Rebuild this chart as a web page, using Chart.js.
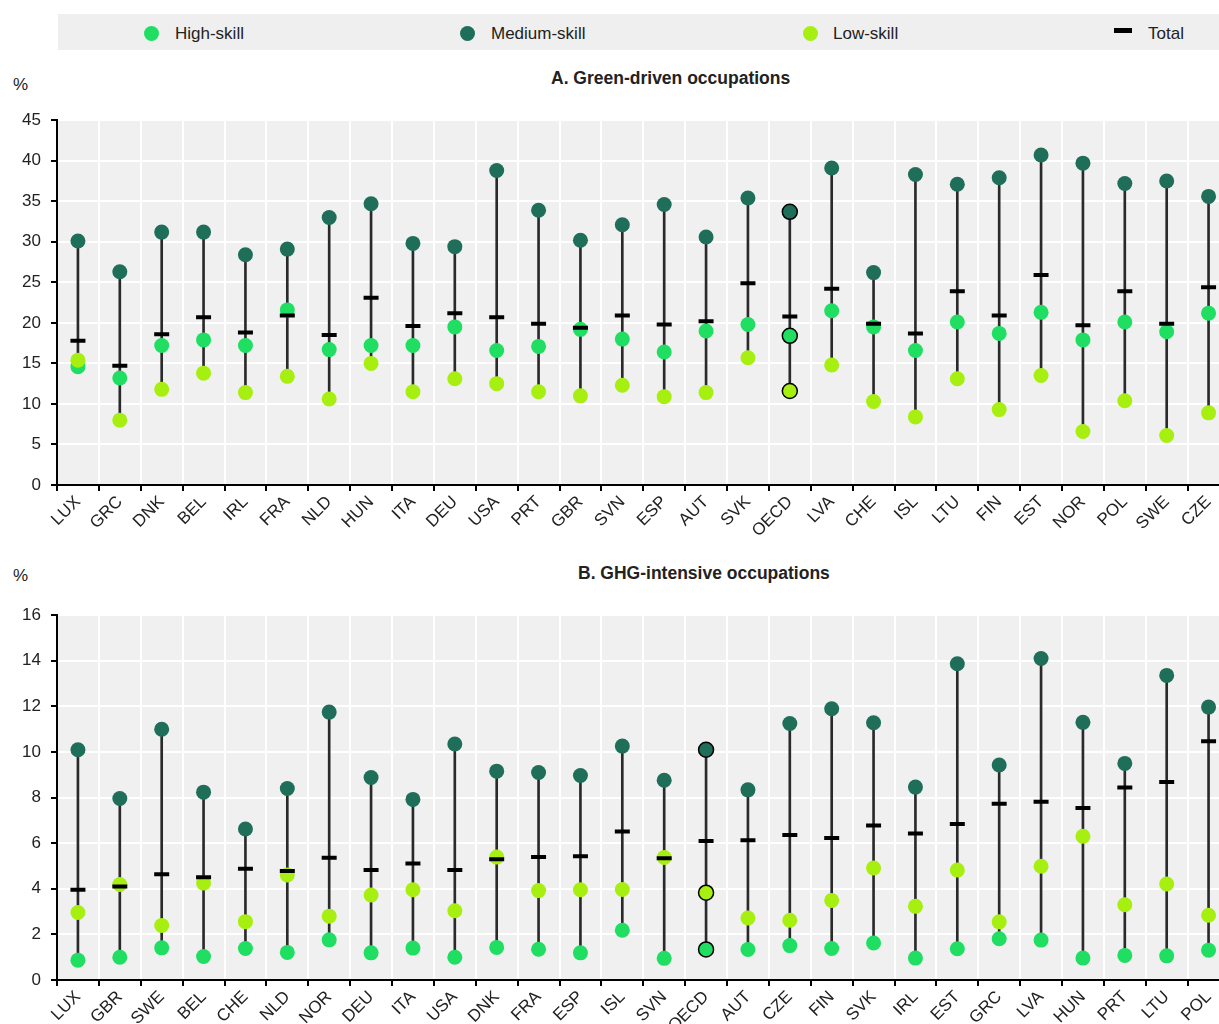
<!DOCTYPE html>
<html>
<head>
<meta charset="utf-8">
<script src="https://cdn.jsdelivr.net/npm/chart.js@4"></script>
<style>
  body { margin: 0; width: 1219px; height: 1024px; overflow: hidden; background: #fff; position: relative;
         font-family: "Liberation Sans Narrow", "Arial Narrow", "Liberation Sans", sans-serif; color: #222; }
  .abs { position: absolute; }
  #legend { left: 58px; top: 14px; width: 1161px; height: 36px; background: #efefef; }
  .dot { position: absolute; width: 15px; height: 15px; border-radius: 50%; top: 12px; }
  .lbl { position: absolute; top: 10px; font-size: 17px; }
  .title { font-weight: bold; font-size: 17.5px; }
  .pct { font-size: 17px; }
</style>
</head>
<body>
<div id="legend" class="abs">
  <span class="dot" style="left:86px;background:#1fde62"></span><span class="lbl" style="left:117px">High-skill</span>
  <span class="dot" style="left:402px;background:#1e6e5a"></span><span class="lbl" style="left:433px">Medium-skill</span>
  <span class="dot" style="left:745px;background:#a6ef10"></span><span class="lbl" style="left:775px">Low-skill</span>
  <span style="position:absolute;left:1056px;top:14px;width:18px;height:5px;background:#000"></span><span class="lbl" style="left:1090px">Total</span>
</div>

<div class="abs pct" style="left:13px;top:75px">%</div>
<div class="abs title" style="left:551px;top:68px">A. Green-driven occupations</div>
<canvas id="chartA" class="abs" style="left:0;top:100px"></canvas>

<div class="abs pct" style="left:13px;top:566px">%</div>
<div class="abs title" style="left:578px;top:563px">B. GHG-intensive occupations</div>
<canvas id="chartB" class="abs" style="left:0;top:595px"></canvas>

<script>
// Panel A: green-driven occupations (%)
const catsA = ['LUX','GRC','DNK','BEL','IRL','FRA','NLD','HUN','ITA','DEU','USA','PRT','GBR','SVN','ESP','AUT','SVK','OECD','LVA','CHE','ISL','LTU','FIN','EST','NOR','POL','SWE','CZE'];
const highA  = [14.6,13.2,17.2,17.9,17.2,21.6,16.7,17.2,17.2,19.5,16.6,17.1,19.2,18.0,16.4,19.0,19.8,18.4,21.5,19.5,16.6,20.1,18.7,21.3,17.9,20.1,18.9,21.2];
const medA   = [30.1,26.3,31.2,31.2,28.4,29.1,33.0,34.7,29.8,29.4,38.8,33.9,30.2,32.1,34.6,30.6,35.4,33.7,39.1,26.2,38.3,37.1,37.9,40.7,39.7,37.2,37.5,35.6];
const lowA   = [15.4,8.0,11.8,13.8,11.4,13.4,10.6,15.0,11.5,13.1,12.5,11.5,11.0,12.3,10.9,11.4,15.7,11.6,14.8,10.3,8.4,13.1,9.3,13.5,6.6,10.4,6.1,8.9];
const totalA = [17.8,14.7,18.6,20.7,18.8,20.9,18.5,23.1,19.6,21.2,20.7,19.9,19.4,20.9,19.8,20.2,24.9,20.8,24.2,19.9,18.7,23.9,20.9,25.9,19.7,23.9,19.9,24.4];

// Panel B: GHG-intensive occupations (%)
const catsB = ['LUX','GBR','SWE','BEL','CHE','NLD','NOR','DEU','ITA','USA','DNK','FRA','ESP','ISL','SVN','OECD','AUT','CZE','FIN','SVK','IRL','EST','GRC','LVA','HUN','PRT','LTU','POL'];
const highB  = [0.87,1.0,1.41,1.03,1.38,1.21,1.76,1.19,1.4,1.0,1.43,1.35,1.19,2.18,0.95,1.34,1.34,1.51,1.38,1.62,0.96,1.37,1.81,1.75,0.96,1.08,1.06,1.31];
const medB   = [10.1,7.96,11.0,8.24,6.62,8.4,11.75,8.88,7.92,10.35,9.16,9.1,8.97,10.26,8.76,10.1,8.34,11.25,11.9,11.28,8.46,13.87,9.43,14.1,11.3,9.5,13.36,11.97];
const lowB   = [2.96,4.19,2.39,4.25,2.56,4.61,2.8,3.73,3.96,3.04,5.39,3.92,3.96,3.97,5.37,3.83,2.72,2.62,3.49,4.91,3.23,4.82,2.55,4.99,6.3,3.3,4.21,2.84];
const totalB = [3.96,4.1,4.64,4.51,4.88,4.78,5.36,4.83,5.11,4.83,5.3,5.4,5.43,6.51,5.34,6.1,6.13,6.36,6.23,6.78,6.42,6.84,7.73,7.82,7.54,8.44,8.68,10.47];

const HIGH = '#1fde62', MED = '#1e6e5a', LOW = '#a6ef10';
const FONT = '"Liberation Sans Narrow", "Arial Narrow", "Liberation Sans", sans-serif';

const plotBg = {
  id: 'plotBg',
  beforeDraw(chart) {
    const a = chart.chartArea, ctx = chart.ctx;
    ctx.save();
    ctx.fillStyle = '#f0f0f0';
    ctx.fillRect(a.left, a.top, a.right - a.left, a.bottom - a.top);
    ctx.restore();
  }
};

function dots(label, data, color, cats, order) {
  return {
    type: 'line', label: label, data: data, showLine: false, order: order,
    backgroundColor: color, borderColor: color,
    pointRadius: 7.5, pointHoverRadius: 7.5,
    pointBorderColor: cats.map(c => c === 'OECD' ? '#000' : color),
    pointBorderWidth: cats.map(c => c === 'OECD' ? 1.5 : 0)
  };
}

function makeChart(id, cats, high, med, low, total, yMax, yStep) {
  const canvas = document.getElementById(id);
  // plot area runs past the right edge of the picture, as in the original
  canvas.width = 1241;
  canvas.height = 440;
  const ranges = cats.map((c, i) => [Math.min(high[i], med[i], low[i]), Math.max(high[i], med[i], low[i])]);

  return new Chart(canvas.getContext('2d'), {
    type: 'bar',
    data: {
      labels: cats,
      datasets: [
        { label: 'range', data: ranges, backgroundColor: '#2a2a2a', barThickness: 2, order: 5 },
        dots('High-skill', high, HIGH, cats, 4),
        dots('Medium-skill', med, MED, cats, 3),
        dots('Low-skill', low, LOW, cats, 2),
        {
          type: 'line', label: 'Total', data: total, showLine: false, order: 1,
          pointStyle: 'line', pointRadius: 7.5, pointHoverRadius: 7.5,
          borderColor: '#000', borderWidth: 4, backgroundColor: '#000'
        }
      ]
    },
    options: {
      responsive: false,
      animation: false,
      layout: { padding: { top: 13, right: 2, left: 0, bottom: 0 } },
      plugins: { legend: { display: false }, tooltip: { enabled: false } },
      scales: {
        x: {
          afterFit: s => { s.height = 55; s.paddingLeft = 0; s.paddingRight = 0; },
          grid: { color: '#fff', lineWidth: 2, tickColor: '#000', tickLength: 6 },
          border: { color: '#000', width: 2 },
          ticks: { color: '#222', font: { family: FONT, size: 17 }, maxRotation: 45, minRotation: 45, padding: 1, autoSkip: false }
        },
        y: {
          min: 0, max: yMax,
          afterFit: s => { s.width = 57; },
          grid: { color: '#fff', lineWidth: 2, tickColor: '#000', tickLength: 6 },
          border: { color: '#000', width: 2 },
          ticks: { stepSize: yStep, color: '#222', font: { family: FONT, size: 17 }, padding: 10 }
        }
      }
    },
    plugins: [plotBg]
  });
}

makeChart('chartA', catsA, highA, medA, lowA, totalA, 45, 5);
makeChart('chartB', catsB, highB, medB, lowB, totalB, 16, 2);
</script>
</body>
</html>
